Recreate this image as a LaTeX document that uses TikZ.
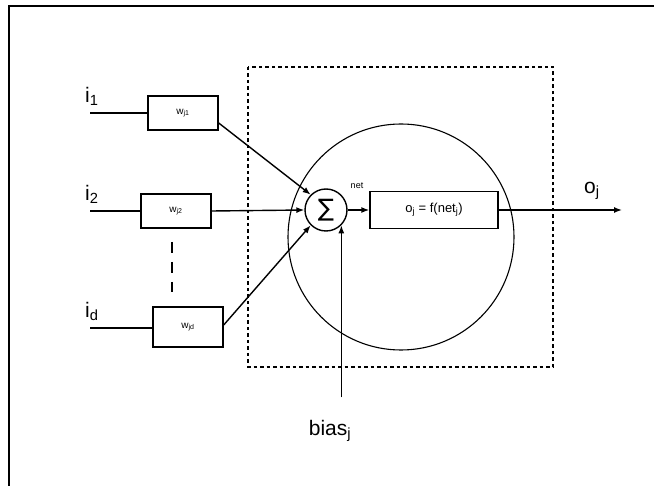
\documentclass[tikz,border=0pt]{standalone}
\usepackage{fontspec}
\setmainfont{Liberation Sans}
\newfontfamily\symfont{DejaVu Sans}
\usetikzlibrary{arrows.meta,calc}
\begin{document}
\begin{tikzpicture}[x=1pt,y=-1pt,
  wire/.style={line width=1.4pt},
  conn/.style={wire,-{Latex[length=8pt,width=6pt]}},
  wbox/.style={draw,line width=1.4pt,minimum width=70pt,minimum height=34pt,
    inner sep=0pt,font=\fontsize{10}{11}\selectfont},
  lbl/.style={inner sep=0pt,font=\fontsize{21}{24}\selectfont}]
\useasboundingbox (0,0) rectangle (654,486);

% outer frame (top and left edges)
\draw[line width=2pt] (9,486) -- (9,6) -- (654,6);

% neuron boundary and cell body
\draw[wire,dash pattern=on 3.5pt off 3pt] (248,67) rectangle (553,367);
\draw[line width=1.1pt] (401,237) circle [radius=113pt];

% weight boxes
\node[wbox] (w1) at (183,113) {w\textsubscript{j1}};
\node[wbox] (w2) at (176,211) {w\textsubscript{j2}};
\node[wbox,minimum height=40pt] (wd) at (188,327) {w\textsubscript{jd}};

% inputs
\coordinate (in1) at (90,113);
\coordinate (in2) at (90,211);
\coordinate (ind) at (90,328);
\node[lbl,anchor=south west] (l1) at (85,106) {i\textsubscript{1}};
\node[lbl,anchor=south west] (l2) at (85,204) {i\textsubscript{2}};
\node[lbl,anchor=south west] (ld) at (85,321) {i\textsubscript{d}};
\draw[wire] (in1) -- (w1.west);
\draw[wire] (in2) -- (w2.west);
\draw[wire] (ind) -- (ind -| wd.west);

% elided inputs
\draw[wire,dash pattern=on 11pt off 9pt] (172,242) -- (172,292);

% summation and activation
\node[circle,draw,line width=1.4pt,minimum size=42pt,inner sep=0pt,
  font=\symfont\fontsize{24}{26}\selectfont] (sum) at (326,210) {∑};
\node[draw,line width=1.4pt,minimum width=128pt,minimum height=37pt,inner sep=0pt,
  font=\fontsize{13}{15}\selectfont] (f) at (434,210)
  {o\textsubscript{j} = f(net\textsubscript{j})};
\node[inner sep=0pt,font=\fontsize{9}{10}\selectfont] (net) at (357,186) {net};

\draw[conn] ($(w1.east)+(0,10)$) -- (sum.135);
\draw[conn] (w2.east) -- (sum.west);
\draw[conn] ($(wd.east)+(0,-2)$) -- (sum.-135);
\draw[conn] (sum.east) -- (f.west);

% output
\coordinate (out) at (622,210);
\draw[conn] (f.east) -- (out);
\node[lbl,anchor=south west] (lo) at (584,200) {o\textsubscript{j}};

% bias
\coordinate (bb) at ($(sum.-45)+(0,172)$);
\draw[conn] (bb) -- (sum.-45);
\node[lbl,anchor=north] (lb) at (330,420) {bias\textsubscript{j}};
\end{tikzpicture}
\end{document}
